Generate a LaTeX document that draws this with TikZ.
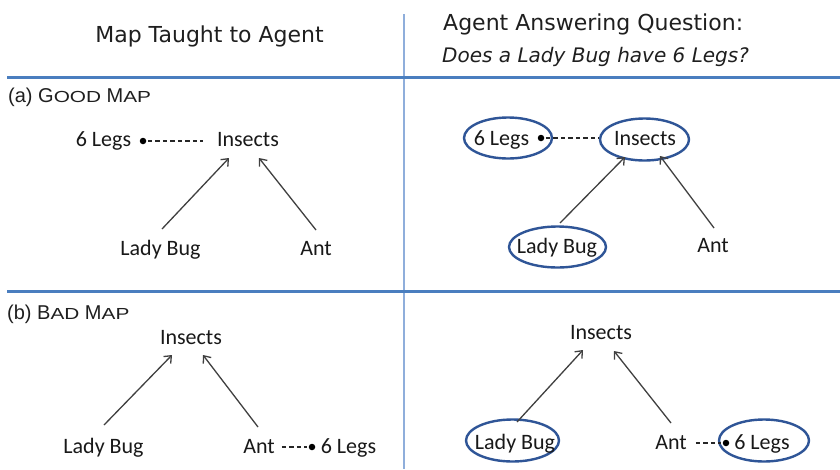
\documentclass[tikz,border=0pt]{standalone}
\usepackage{fontspec}
\usepackage{graphicx}
\setmainfont{Carlito}
\newfontfamily\hdrfont{DejaVu Sans}
\newfontfamily\ttlfont{Liberation Sans}
\usetikzlibrary{arrows.meta,calc}
\definecolor{ovalblue}{HTML}{2F5597}
\definecolor{ruleblue}{HTML}{4A7EBF}
\definecolor{vblue}{HTML}{8FAEDB}
\newcommand\fakesc[1]{\scalebox{1.3}[1]{\fontsize{16}{16}\selectfont #1}}
\begin{document}
\begin{tikzpicture}[x=1pt,y=-1pt,
  lbl/.style={font=\fontsize{22}{22}\selectfont, inner sep=0pt, anchor=base, text=black!90},
  hdr/.style={font=\hdrfont\fontsize{22}{22}\selectfont, inner sep=0pt, text=black!88},
  qst/.style={font=\hdrfont\itshape\fontsize{20}{20}\selectfont, inner sep=0pt, text=black!88},
  ttl/.style={font=\ttlfont\fontsize{20}{20}\selectfont, inner sep=0pt, anchor=base west, text=black!88},
  arr/.style={draw=black!75, line width=1.3pt, -{Straight Barb[length=6pt,width=10pt]}},
  dsh/.style={draw=black!85, line width=1.1pt, dash pattern=on 4.5pt off 3pt},
  dotn/.style={circle, fill=black, inner sep=0pt, minimum size=6.5pt},
  oval/.style={draw=ovalblue, line width=2.4pt},
  rulel/.style={draw=ruleblue, line width=3pt},
  vrule/.style={draw=vblue, line width=2pt}]
\useasboundingbox (0,0) rectangle (840,469);
\fill[white] (0,0) rectangle (840,469);

% grid lines
\draw[vrule] (404,14) -- (404,469);
\draw[rulel] (7,77) -- (840,77);
\draw[rulel] (7,291) -- (840,291);

% headers
\node[hdr, anchor=base] (h1) at (209.5,42) {Map Taught to Agent};
\node[hdr, anchor=base west] (h2) at (443,30) {Agent Answering Question:};
\node[qst, anchor=base west] (h3) at (442,62) {Does a Lady Bug have 6 Legs?};

% section titles
\node[ttl] (ta) at (8,102) {(a) G\fakesc{OOD} M\fakesc{AP}};
\node[ttl] (tb) at (7,319) {(b) B\fakesc{AD} M\fakesc{AP}};

% ---------- (a) left ----------
\node[lbl] (leg1) at (103.5,146) {6 Legs};
\node[lbl] (ins1) at (248,146) {Insects};
\node[lbl] (lb1) at (160.5,255) {Lady Bug};
\node[lbl] (ant1) at (316,255) {Ant};
\node[dotn] (d1) at (143,141) {};
\draw[dsh, shorten <=1.5pt, shorten >=14pt] (d1) -- (d1 -| ins1.west);
\draw[arr] ([shift={(1.5,-26)}]lb1.base) -- ([shift={(-19,12)}]ins1.base);
\draw[arr] ([shift={(0,-25)}]ant1.base) -- ([shift={(11,12)}]ins1.base);

% ---------- (a) right ----------
\draw[oval] (508,138) ellipse [x radius=44, y radius=20.5];
\draw[oval] (644.5,139.5) ellipse [x radius=44.5, y radius=21];
\draw[oval] (557.5,247) ellipse [x radius=48.5, y radius=20.5];
\node[lbl] (leg2) at (501.5,145) {6 Legs};
\node[lbl] (ins2) at (645,145) {Insects};
\node[lbl] (lb2) at (557,253) {Lady Bug};
\node[lbl] (ant2) at (713,252) {Ant};
\node[dotn] (d2) at (541,138) {};
\draw[dsh, shorten <=1.5pt, shorten >=15pt] (d2) -- (d2 -| ins2.west);
\draw[arr] ([shift={(3,-30)}]lb2.base) -- ([shift={(-20,12)}]ins2.base);
\draw[arr] ([shift={(1,-24)}]ant2.base) -- ([shift={(15,11)}]ins2.base);

% ---------- (b) left ----------
\node[lbl] (ins3) at (191,344) {Insects};
\node[lbl] (lb3) at (103.5,453) {Lady Bug};
\node[lbl] (ant3) at (259,453) {Ant};
\node[lbl] (leg3) at (348.5,453) {6 Legs};
\node[dotn] (d3) at (312,447) {};
\draw[dsh, shorten <=7pt, shorten >=1.5pt] (ant3.east |- d3) -- (d3);
\draw[arr] ([shift={(0.5,-28)}]lb3.base) -- ([shift={(-19,11)}]ins3.base);
\draw[arr] ([shift={(-1,-26)}]ant3.base) -- ([shift={(12,11)}]ins3.base);

% ---------- (b) right ----------
\draw[oval] (512.5,440.5) ellipse [x radius=46.5, y radius=21];
\draw[oval] (764,440.5) ellipse [x radius=45, y radius=21];
\node[lbl] (ins4) at (601,339) {Insects};
\node[lbl] (lb4) at (515,449) {Lady Bug};
\node[lbl] (ant4) at (671,449) {Ant};
\node[lbl] (leg4) at (762,449) {6 Legs};
\node[dotn] (d4) at (726,443) {};
\draw[dsh, shorten <=9pt, shorten >=1.5pt] (ant4.east |- d4) -- (d4);
\draw[arr] ([shift={(2,-27)}]lb4.base) -- ([shift={(-18,11)}]ins4.base);
\draw[arr] ([shift={(0,-26)}]ant4.base) -- ([shift={(13,12)}]ins4.base);
\end{tikzpicture}
\end{document}
